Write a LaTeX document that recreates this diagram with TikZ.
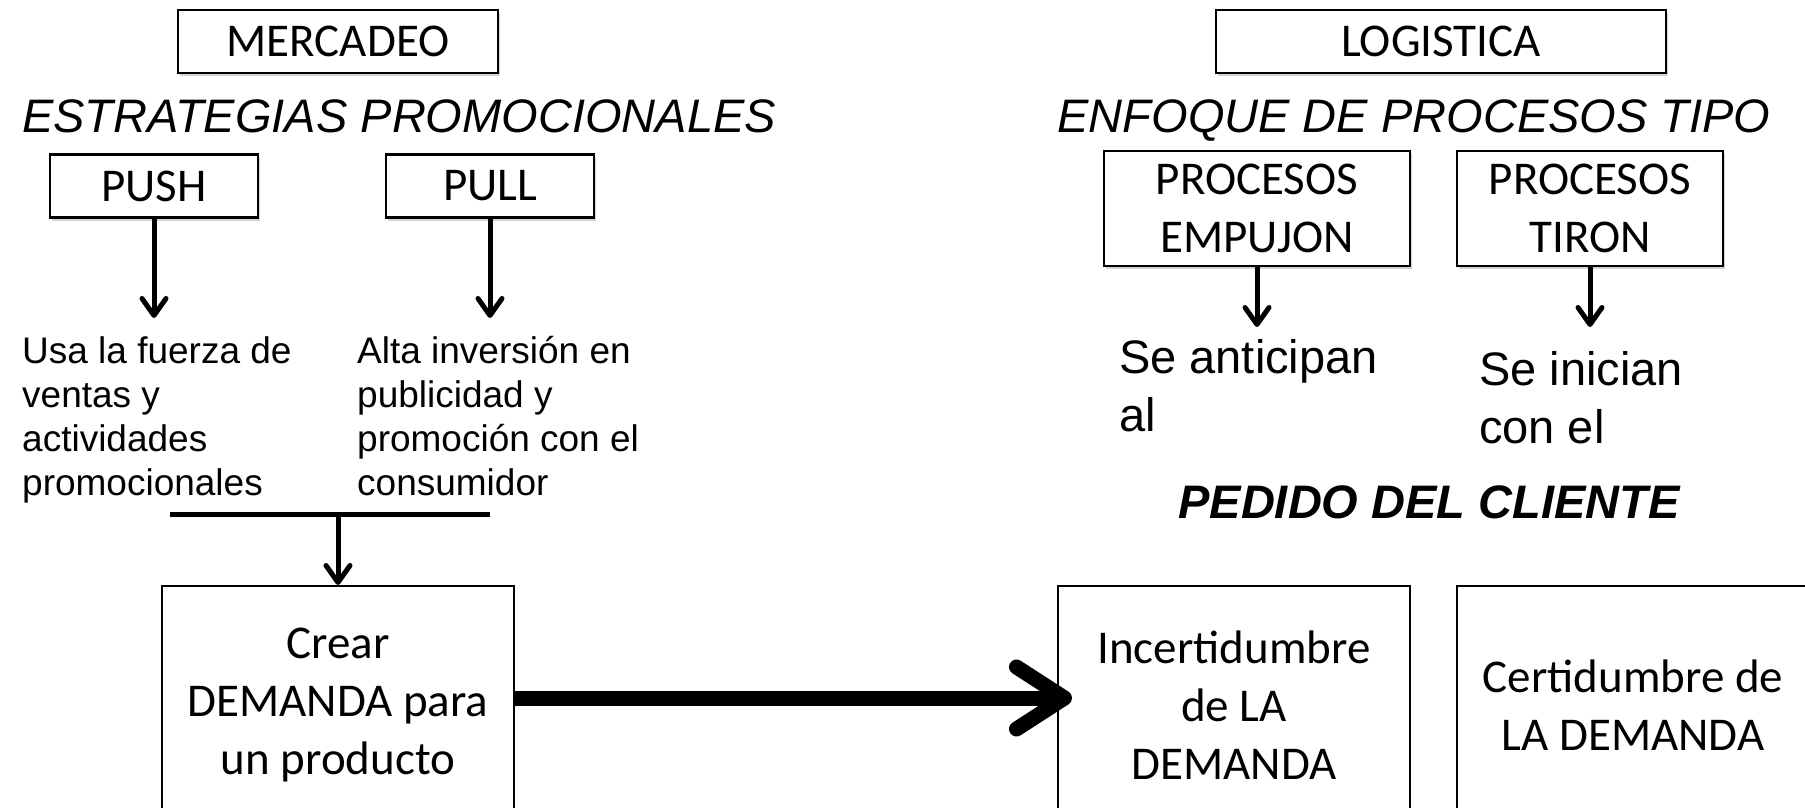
\documentclass[tikz,border=0pt]{standalone}
\usepackage{fontspec}
\setmainfont{Liberation Sans}
\newfontfamily\boxfont{Carlito}
\usetikzlibrary{arrows.meta,shadows}

\begin{document}
\begin{tikzpicture}[
    % Work in the pixels of the slide: x goes to the right, y goes down.
    x=1pt,
    y=-1pt
]
    % --- Style Definitions ---
    % 'headbox' is a framed title with a soft shadow, 'demandbox' the plain boxes below.
    \tikzstyle{headbox} = [draw, line width=2.5pt, fill=white, inner sep=0pt,
        drop shadow={shadow xshift=2pt, shadow yshift=-3pt, opacity=0.35},
        font=\boxfont\fontsize{47}{58}\selectfont, align=center]
    \tikzstyle{demandbox} = [draw, line width=2pt, inner sep=0pt,
        font=\boxfont\fontsize{47}{58}\selectfont, align=center]
    \tikzstyle{heading} = [inner sep=0pt, anchor=base, font=\fontsize{47}{56}\selectfont\itshape]
    \tikzstyle{note} = [inner sep=0pt, align=left, anchor=north west, font=\fontsize{37}{44}\selectfont]
    \tikzstyle{bignote} = [inner sep=0pt, align=left, anchor=north west, font=\fontsize{47}{58}\selectfont]
    \tikzstyle{arrow} = [draw, line width=5pt, -{Straight Barb[length=17pt, width=24pt, line width=5pt, round]}]
    \tikzstyle{bigarrow} = [draw, line width=15pt, -{Straight Barb[length=48pt, width=62pt, line width=15pt, round]}]

    % --- Frame of the slide ---
    \useasboundingbox (0,0) rectangle (1805,808);
    \clip (0,0) rectangle (1805,808);

    % --- Marketing side ---
    \node[headbox, minimum width=320pt, minimum height=63pt] (mercadeo) at (338,41.5) {MERCADEO};
    \node[heading] (estrategias) at (399,132) {ESTRATEGIAS PROMOCIONALES};
    \node[headbox, minimum width=208pt, minimum height=63pt] (push) at (154,186) {PUSH};
    \node[headbox, minimum width=208pt, minimum height=63pt] (pull) at (490,186) {PULL};

    \coordinate (pushend) at (154,318);
    \coordinate (pullend) at (490,318);
    \draw[arrow] (push.south) -- (pushend);
    \draw[arrow] (pull.south) -- (pullend);

    \node[note] (pushtxt) at (22,336) {Usa la fuerza de\\ventas y\\actividades\\promocionales};
    \node[note] (pulltxt) at (357,336) {Alta inversión en\\publicidad y\\promoción con el\\consumidor};

    % --- Logistics side ---
    \node[headbox, minimum width=450pt, minimum height=63pt] (logistica) at (1441,41.5) {LOGISTICA};
    \node[heading] (enfoque) at (1414,132) {ENFOQUE DE PROCESOS TIPO};
    \node[headbox, minimum width=306pt, minimum height=115pt] (empujon) at (1257,208.5) {PROCESOS\\EMPUJON};
    \node[headbox, minimum width=266pt, minimum height=115pt] (tiron) at (1590,208.5) {PROCESOS\\TIRON};

    \coordinate (empujonend) at (1257,327);
    \coordinate (tironend) at (1590,327);
    \draw[arrow] (empujon.south) -- (empujonend);
    \draw[arrow] (tiron.south) -- (tironend);

    \node[bignote] (anticipan) at (1119,339) {Se anticipan\\al};
    \node[bignote] (inician) at (1479,351) {Se inician\\con el};
    \node[heading, font=\fontsize{47}{56}\selectfont\bfseries\itshape] (pedido) at (1429,518) {PEDIDO DEL CLIENTE};

    % --- Demand boxes (cut by the lower edge) ---
    \node[demandbox, minimum width=352pt, minimum height=238pt] (crear) at (338,705) {Crear\\DEMANDA para\\un producto};
    \node[demandbox, minimum width=352pt, minimum height=238pt] (incert) at (1234,705) {Incertidumbre\\de LA\\DEMANDA};
    \node[demandbox, minimum width=352pt, minimum height=238pt] (cert) at (1633,705) {Certidumbre de\\LA DEMANDA};

    % --- Joining bar and connectors ---
    \coordinate (barleft) at (170,514);
    \coordinate (barright) at (490,514);
    \draw[line width=5pt] (barleft) -- (barright);
    \draw[arrow] (crear.north |- barleft) -- (crear.north);

    \coordinate (bigtip) at (1072,698);
    \draw[bigarrow] (crear.east |- bigtip) -- (bigtip);
\end{tikzpicture}
\end{document}
